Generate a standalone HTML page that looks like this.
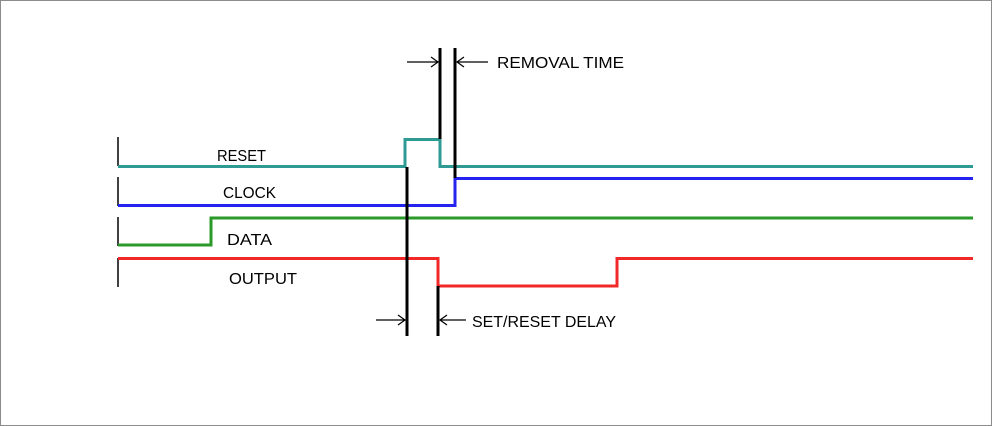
<!DOCTYPE html>
<html><head><style>
html,body{margin:0;padding:0;background:#fff}
svg{display:block}
text{font-family:"Liberation Sans",sans-serif;font-size:16px;fill:#000}
</style></head><body>
<svg width="992" height="426" viewBox="0 0 992 426" xmlns="http://www.w3.org/2000/svg">
<rect x="0.5" y="0.5" width="991" height="425" fill="#fff" stroke="#8c8c8c"/>
<g stroke="#000" stroke-width="1.5">
<line x1="118" y1="137" x2="118" y2="166"/>
<line x1="118" y1="177" x2="118" y2="206"/>
<line x1="118" y1="217" x2="118" y2="246"/>
<line x1="118" y1="258" x2="118" y2="287"/>
</g>
<g fill="none" stroke-width="3">
<polyline stroke="#2e9a94" points="118,166.5 405,166.5 405,139.5 440,139.5 440,166.5 973,166.5"/>
<polyline stroke="#2424ee" points="118,205.5 455,205.5 455,178.5 973,178.5"/>
<polyline stroke="#2a9a2a" points="118,245 211,245 211,218 973,218"/>
<polyline stroke="#f02828" points="118,258.5 438,258.5 438,286 617,286 617,258.5 973,258.5"/>
</g>
<g stroke="#000" stroke-width="3">
<line x1="407" y1="167" x2="407" y2="336"/>
<line x1="438" y1="286" x2="438" y2="336"/>
<line x1="440" y1="48" x2="440" y2="139"/>
<line x1="455" y1="48" x2="455" y2="178"/>
</g>
<g stroke="#000" stroke-width="1.2" fill="none">
<line x1="407" y1="62" x2="438" y2="62"/><polyline points="431,57 438,62 431,67"/>
<line x1="457" y1="62" x2="488" y2="62"/><polyline points="464,57 457,62 464,67"/>
<line x1="376" y1="320" x2="405" y2="320"/><polyline points="398,315 405,320 398,325"/>
<line x1="440" y1="320" x2="466" y2="320"/><polyline points="447,315 440,320 447,325"/>
</g>
<text x="217" y="161" textLength="49" lengthAdjust="spacingAndGlyphs">RESET</text>
<text x="223" y="198" textLength="53" lengthAdjust="spacingAndGlyphs">CLOCK</text>
<text x="227" y="245" textLength="45" lengthAdjust="spacingAndGlyphs">DATA</text>
<text x="229" y="284" textLength="68" lengthAdjust="spacingAndGlyphs">OUTPUT</text>
<text x="497" y="68" textLength="127" lengthAdjust="spacingAndGlyphs">REMOVAL TIME</text>
<text x="472" y="327" textLength="144" lengthAdjust="spacingAndGlyphs">SET/RESET DELAY</text>
</svg>
</body></html>
